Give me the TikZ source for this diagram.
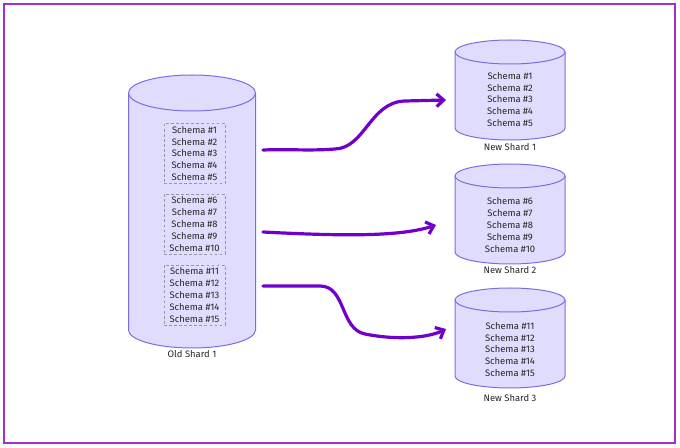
\documentclass[tikz,border=0pt]{standalone}
\usepackage{fontspec}
\setmainfont{Fira Sans}
\usetikzlibrary{arrows.meta}
\definecolor{shardfill}{RGB}{224,220,253}
\definecolor{shardline}{RGB}{122,110,222}
\definecolor{movecol}{RGB}{112,0,204}
\definecolor{framecol}{RGB}{163,48,204}
\definecolor{grpcol}{RGB}{150,150,168}
\def\shard(#1,#2,#3)(#4,#5){\draw[shard] (#1-#4,#2) -- (#1-#4,#3) arc[start angle=180,end angle=360,x radius=#4,y radius=#5] -- (#1+#4,#2); \draw[shard] (#1,#2) ellipse[x radius=#4,y radius=#5];}

\begin{document}
\begin{tikzpicture}[x=0.025cm, y=0.025cm,
	shard/.style={line width=0.25mm, draw=shardline, fill=shardfill},
	schema/.style={align=center, text=black!85, font=\fontsize{6.7}{8.4}\selectfont, inner sep=0pt},
	grp/.style={schema, draw=grpcol, line width=0.15mm, dash pattern=on 2pt off 1.6pt, minimum width=1.525cm, minimum height=1.5cm},
	lbl/.style={text=black!85, font=\fontsize{6.7}{8}\selectfont, inner sep=0pt},
	move/.style={line width=0.8mm, color=movecol, line cap=round, -{Straight Barb[length=5pt, width=9pt, line width=0.8mm]}}]
		%%%%% START %%%%%
		\useasboundingbox (0, 0) rectangle (680, 448);
		\draw[line width=0.3mm, color=framecol] (4, 5) rectangle (675, 444);
		
		% old shard
		\shard(192,355,118)(63.5,18)
		\node[grp] (g1) at (194.5, 294.5) {Schema \#1\\Schema \#2\\Schema \#3\\Schema \#4\\Schema \#5};
		\node[grp] (g2) at (194.5, 224) {Schema \#6\\Schema \#7\\Schema \#8\\Schema \#9\\Schema \#10};
		\node[grp] (g3) at (194.5, 153) {Schema \#11\\Schema \#12\\Schema \#13\\Schema \#14\\Schema \#15};
		\node[lbl] (old) at (192, 94) {Old Shard 1};
		
		% new shards
		\shard(510,396,320)(55,12)
		\node[schema] (n1) at (510, 348.5) {Schema \#1\\Schema \#2\\Schema \#3\\Schema \#4\\Schema \#5};
		\node[lbl] (new1) at (510, 301) {New Shard 1};
		
		\shard(510,272,196)(55,12)
		\node[schema] (n2) at (510, 223) {Schema \#6\\Schema \#7\\Schema \#8\\Schema \#9\\Schema \#10};
		\node[lbl] (new2) at (510, 178) {New Shard 2};
		
		\shard(510,148,72)(55,12)
		\node[schema] (n3) at (510, 98.5) {Schema \#11\\Schema \#12\\Schema \#13\\Schema \#14\\Schema \#15};
		\node[lbl] (new3) at (510, 50) {New Shard 3};
		
		% moves
		\coordinate (out1) at (263, 298);
		\coordinate (out2) at (263, 216);
		\coordinate (out3) at (263, 162);
		\coordinate (in1) at (446, 348);
		\coordinate (in2) at (436, 223);
		\coordinate (in3) at (446, 119);
		
		\draw[move] (out1) .. controls (290, 299) and (310, 297) .. (335, 299) .. controls (365, 300) and (370, 346) .. (405, 347) -- (in1);
		\draw[move] (out2) .. controls (340, 212) and (400, 211) .. (in2);
		\draw[move] (out3) -- (320, 162) .. controls (346, 162) and (340, 119) .. (365, 114) .. controls (400, 107) and (430, 111) .. (in3);
		%%%%% END %%%%%
	\end{tikzpicture}
\end{document}
